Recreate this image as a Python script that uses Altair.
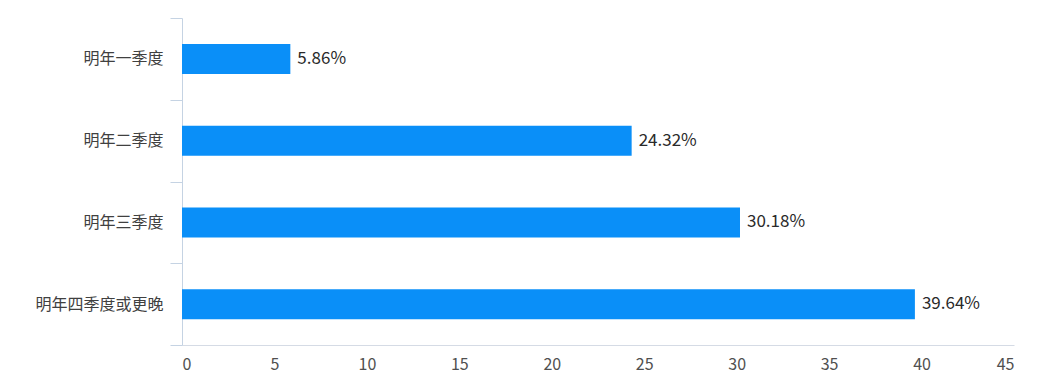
import altair as alt
import pandas as pd

categories = ["明年一季度", "明年二季度", "明年三季度", "明年四季度或更晚"]
values = [5.86, 24.32, 30.18, 39.64]
labels = ["5.86%", "24.32%", "30.18%", "39.64%"]
x_ticks = [0, 5, 10, 15, 20, 25, 30, 35, 40, 45]

df = pd.DataFrame({"cat": categories, "val": values, "lab": labels})

FONT = "Noto Sans CJK SC"

y_enc = alt.Y(
    "cat:N",
    sort=categories,
    title=None,
    scale=alt.Scale(paddingInner=0, paddingOuter=0),
    axis=alt.Axis(
        tickBand="extent",
        tickSize=12,
        tickColor="#c5d3e3",
        domainColor="#c5d3e3",
        labelPadding=7,
        labelFontSize=16,
        labelColor="#404040",
        labelFont=FONT,
    ),
)

x_enc = alt.X(
    "val:Q",
    title=None,
    scale=alt.Scale(domain=[0, 45], nice=False),
    axis=alt.Axis(
        values=x_ticks,
        grid=False,
        ticks=False,
        domainColor="#d5dbe5",
        labelPadding=11,
        labelFontSize=16,
        labelColor="#505050",
        labelFont=FONT,
    ),
)

bars = alt.Chart(df).mark_bar(size=30, color="#0A8FF8").encode(x=x_enc, y=y_enc)

text = alt.Chart(df).mark_text(
    align="left", baseline="middle", dx=7, fontSize=17, color="#2a2a2a", font=FONT
).encode(x="val:Q", y=alt.Y("cat:N", sort=categories), text="lab:N")

chart = (
    (bars + text)
    .properties(
        width=832,
        height=327,
        background="white",
        autosize=alt.AutoSizeParams(type="none"),
        padding={"left": 174, "top": 10, "right": 18, "bottom": 30},
    )
    .configure_view(strokeWidth=0, stroke="transparent")
)

chart.save("out.html", embed_options={"renderer": "svg", "actions": False})
